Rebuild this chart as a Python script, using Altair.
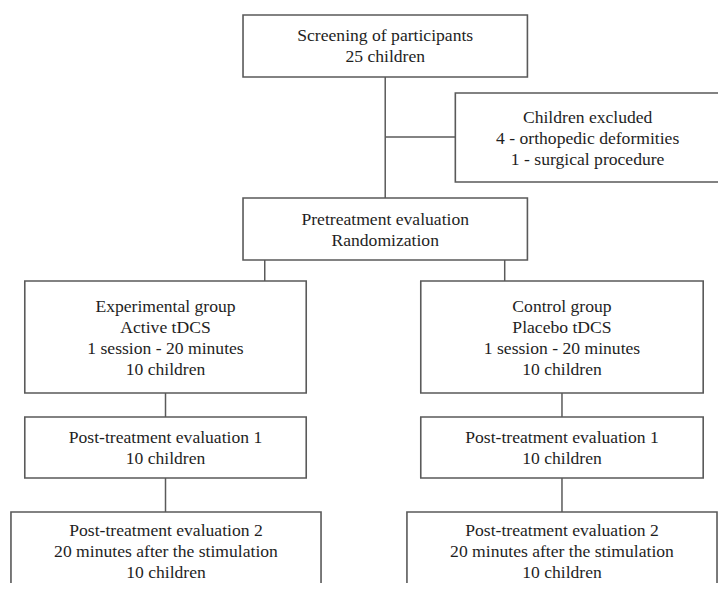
import altair as alt
import pandas as pd

# Box geometry (pixel coordinates of the 726x591 picture)
box_ids = ["screen", "excluded", "pretreat", "exp", "ctrl", "post1_l", "post1_r", "post2_l", "post2_r"]
box_x1 = [243, 458, 243, 22, 423, 22, 423, 8, 409]
box_x2 = [531, 740, 531, 307, 709, 307, 709, 322, 723]
box_y1 = [15, 93, 198, 281, 281, 417, 417, 512, 512]
box_y2 = [77, 182, 260, 393, 393, 478, 478, 610, 610]
box_text = [
    "Screening of participants\n25 children",
    "Children excluded\n4 - orthopedic deformities\n1 - surgical procedure",
    "Pretreatment evaluation\nRandomization",
    "Experimental group\nActive tDCS\n1 session - 20 minutes\n10 children",
    "Control group\nPlacebo tDCS\n1 session - 20 minutes\n10 children",
    "Post-treatment evaluation 1\n10 children",
    "Post-treatment evaluation 1\n10 children",
    "Post-treatment evaluation 2\n20 minutes after the stimulation\n10 children",
    "Post-treatment evaluation 2\n20 minutes after the stimulation\n10 children",
]
# centre x and first-line y of each label
text_x = [387, 592, 387, 164.5, 566, 164.5, 566, 165, 566]
text_y = [35.5, 117.5, 219.5, 306.5, 306.5, 437.5, 437.5, 531, 531]

# Connector lines
line_x1 = [387, 387, 265, 508, 164.5, 164.5, 566, 566]
line_x2 = [387, 458, 265, 508, 164.5, 164.5, 566, 566]
line_y1 = [77, 137, 260, 260, 393, 478, 393, 478]
line_y2 = [198, 137, 281, 281, 417, 512, 417, 512]

boxes = pd.DataFrame({"id": box_ids, "x1": box_x1, "x2": box_x2, "y1": box_y1, "y2": box_y2})
texts = pd.DataFrame({"id": box_ids, "label": box_text, "tx": text_x, "ty": text_y})
lines = pd.DataFrame({"x1": line_x1, "x2": line_x2, "y1": line_y1, "y2": line_y2})

xs = alt.Scale(domain=[5, 724], nice=False, zero=False)
ys = alt.Scale(domain=[8, 583], nice=False, zero=False, reverse=True)

STROKE = "#5a5a5a"

rules = alt.Chart(lines).mark_rule(color=STROKE, strokeWidth=1.5, clip=True).encode(
    x=alt.X("x1:Q", scale=xs, axis=None),
    x2="x2:Q",
    y=alt.Y("y1:Q", scale=ys, axis=None),
    y2="y2:Q",
)

rects = alt.Chart(boxes).mark_rect(fill="white", stroke=STROKE, strokeWidth=1.6, clip=True).encode(
    x=alt.X("x1:Q", scale=xs, axis=None),
    x2="x2:Q",
    y=alt.Y("y1:Q", scale=ys, axis=None),
    y2="y2:Q",
)

labels = alt.Chart(texts).mark_text(
    font="Liberation Serif",
    fontSize=17.6,
    lineHeight=21.2,
    color="#1e1e1e",
    align="center",
    baseline="middle",
    lineBreak="\n",
).encode(
    x=alt.X("tx:Q", scale=xs, axis=None),
    y=alt.Y("ty:Q", scale=ys, axis=None),
    text="label:N",
)

chart = alt.layer(rules, rects, labels).properties(
    width=710,
    height=575,
    padding=0,
    autosize=alt.AutoSizeParams(type="none"),
    background="white",
).configure_view(stroke=None)

chart.save("out.html", embed_options={"renderer": "svg", "actions": False})
